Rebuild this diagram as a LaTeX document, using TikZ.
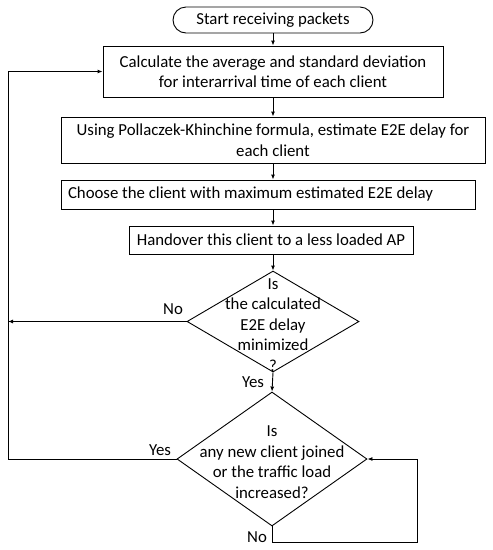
\documentclass[tikz,border=0pt]{standalone}
\usepackage{fontspec}
\setmainfont{Carlito}
\usetikzlibrary{shapes.geometric,arrows.meta}
\begin{document}
\begin{tikzpicture}[x=1pt,y=-1pt,
  every node/.style={font=\fontsize{16.8}{20.5}\selectfont},
  box/.style={draw, rectangle, line width=0.9pt, inner sep=0pt, align=center},
  dia/.style={draw, diamond, line width=0.9pt, inner sep=0pt},
  lbl/.style={inner sep=0pt},
  arr/.style={line width=0.9pt, -{Latex[length=5pt,width=4pt]}},
  ln/.style={line width=0.9pt}
]
\useasboundingbox (0,0) rectangle (493,550);
\node[box, rounded corners=13pt, minimum width=200pt, minimum height=26pt] (start) at (273,20) {Start receiving packets};
\node[box, minimum width=340pt, minimum height=51pt] (calc) at (273,71.5) {Calculate the average and standard deviation\\for interarrival time of each client};
\node[box, minimum width=424pt, minimum height=46pt] (e2e) at (273,140) {Using Pollaczek-Khinchine formula, estimate E2E delay for\\each client};
\node[box, minimum width=414pt, minimum height=29pt, text width=400pt, align=flush left, inner xsep=7pt] (choose) at (268,194.5) {Choose the client with maximum estimated E2E delay};
\node[box, minimum width=284pt, minimum height=28pt] (hand) at (271,240) {Handover this client to a less loaded AP};
\node[dia, minimum width=172pt, minimum height=101pt] (d1) at (273,321.5) {};
\node[align=center, inner sep=0pt] (d1t) at (273,325) {Is\\the calculated\\E2E delay\\minimized\\?};
\node[dia, minimum width=190pt, minimum height=134pt] (d2) at (272,459) {};
\node[align=center, inner sep=0pt] (d2t) at (272,462) {Is\\any new client joined\\or the traffic load\\increased?};
\node[lbl] (no1) at (173,309) {No};
\node[lbl] (yes1) at (253,382) {Yes};
\node[lbl] (yes2) at (160,450) {Yes};
\node[lbl] (no2) at (257,537) {No};
\coordinate (lx) at (8,459);
\coordinate (nb) at (272,542);
\coordinate (nr) at (417,542);
\draw[arr] (start.south) -- (start.south |- calc.north);
\draw[arr] (calc.south) -- (calc.south |- e2e.north);
\draw[arr] (e2e.south) -- (e2e.south |- choose.north);
\draw[arr] (e2e.south |- choose.south) -- (e2e.south |- hand.north);
\draw[arr] (e2e.south |- hand.south) -- (d1.north);
\draw[arr] (d1.south) -- (d2.north);
\draw[arr] (d1.west) -- (d1.west -| lx);
\draw[arr] (d2.west) -- (lx) |- (calc.west);
\draw[arr] (d2.south) -- (nb) -- (nr) |- (d2.east);
\end{tikzpicture}
\end{document}
